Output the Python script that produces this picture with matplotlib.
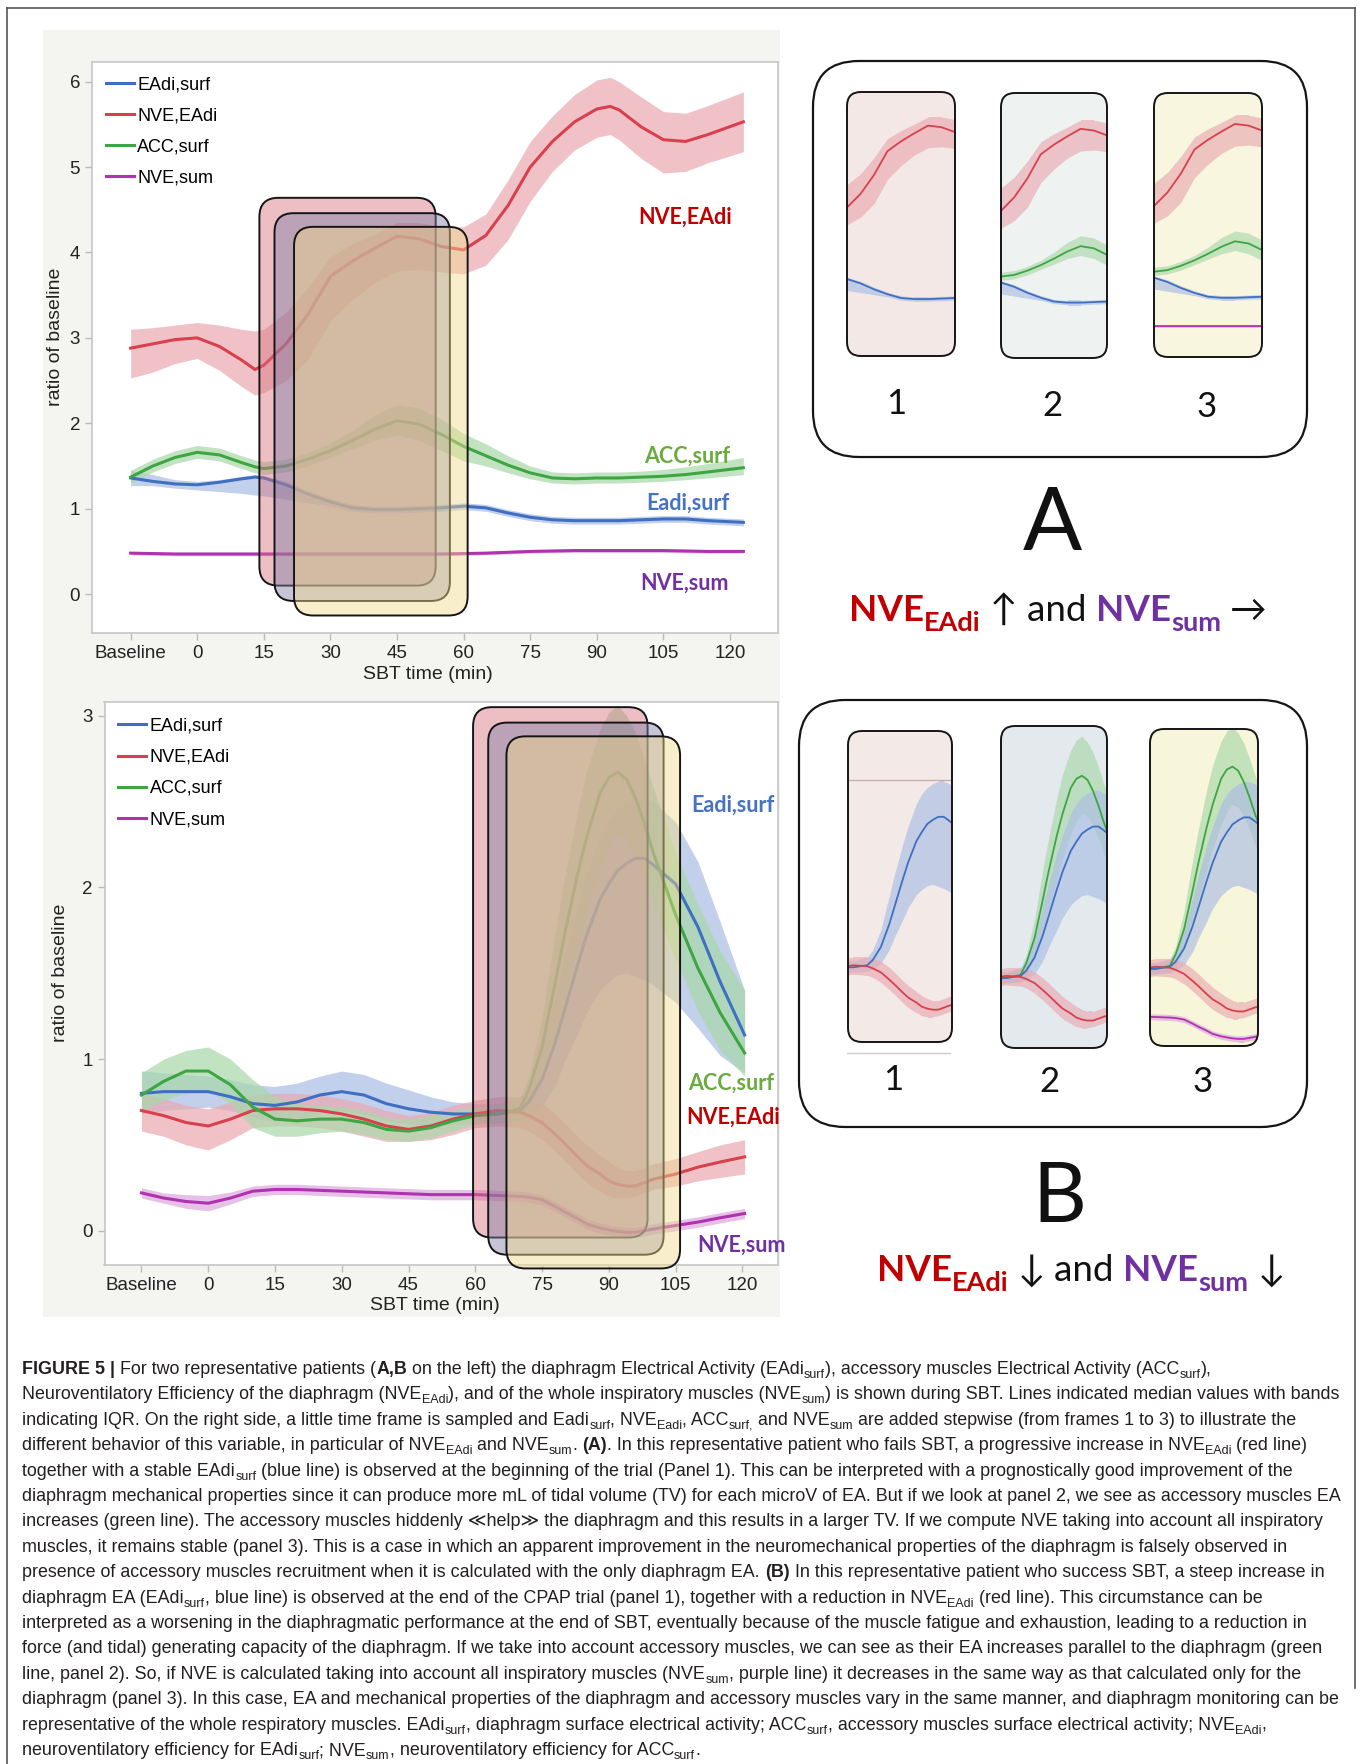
import re
import matplotlib
matplotlib.use("Agg")
import matplotlib.pyplot as plt
from matplotlib.patches import FancyBboxPatch, Rectangle
from matplotlib import font_manager

plt.rcParams["font.family"] = ["Liberation Sans", "DejaVu Sans"]

W, H = 1360, 1764

# ---------------- patient A (top chart) ----------------
tA = [-15, -10, -5, 0, 5, 10, 13, 15, 20, 25, 30, 35, 40, 45, 50, 55, 60, 65, 70, 75,
      80, 85, 90, 93, 95, 100, 105, 110, 115, 123]
a_nve = [2.88, 2.93, 2.98, 3.00, 2.90, 2.74, 2.63, 2.68, 2.93, 3.28, 3.72, 3.90, 4.05, 4.19, 4.16,
         4.07, 4.03, 4.20, 4.55, 5.00, 5.30, 5.53, 5.68, 5.71, 5.67, 5.47, 5.32, 5.30, 5.38, 5.53]
a_nve_lo = [2.53, 2.60, 2.70, 2.76, 2.62, 2.43, 2.33, 2.36, 2.50, 2.75, 3.20, 3.45, 3.65, 3.78, 3.80,
            3.77, 3.75, 3.85, 4.15, 4.60, 4.95, 5.20, 5.35, 5.38, 5.32, 5.10, 4.93, 4.95, 5.05, 5.18]
a_nve_hi = [3.10, 3.12, 3.15, 3.18, 3.15, 3.10, 3.08, 3.10, 3.30, 3.60, 3.95, 4.10, 4.22, 4.35, 4.35,
            4.30, 4.30, 4.45, 4.85, 5.30, 5.60, 5.85, 6.02, 6.05, 6.00, 5.82, 5.65, 5.63, 5.72, 5.88]
a_acc = [1.37, 1.50, 1.60, 1.66, 1.63, 1.54, 1.49, 1.47, 1.50, 1.58, 1.68, 1.80, 1.93, 2.03, 1.99,
         1.87, 1.73, 1.62, 1.51, 1.42, 1.36, 1.35, 1.36, 1.36, 1.36, 1.37, 1.38, 1.40, 1.43, 1.48]
a_acc_lo = [1.30, 1.43, 1.53, 1.59, 1.56, 1.47, 1.42, 1.40, 1.43, 1.50, 1.60, 1.70, 1.80, 1.86, 1.80,
            1.68, 1.56, 1.50, 1.42, 1.35, 1.30, 1.29, 1.30, 1.30, 1.30, 1.31, 1.32, 1.34, 1.36, 1.40]
a_acc_hi = [1.45, 1.58, 1.68, 1.74, 1.71, 1.62, 1.57, 1.55, 1.58, 1.66, 1.77, 1.92, 2.10, 2.22, 2.18,
            2.05, 1.88, 1.76, 1.62, 1.50, 1.43, 1.42, 1.43, 1.43, 1.43, 1.44, 1.46, 1.49, 1.53, 1.60]
a_eadi = [1.36, 1.32, 1.29, 1.28, 1.31, 1.35, 1.37, 1.36, 1.28, 1.17, 1.08, 1.01, 0.99, 0.99, 1.00,
          1.01, 1.03, 1.01, 0.95, 0.90, 0.87, 0.86, 0.86, 0.86, 0.86, 0.87, 0.88, 0.88, 0.86, 0.84]
a_eadi_lo = [1.27, 1.27, 1.24, 1.22, 1.20, 1.18, 1.16, 1.15, 1.11, 1.07, 1.03, 0.97, 0.95, 0.95, 0.96,
             0.97, 0.99, 0.97, 0.91, 0.86, 0.83, 0.82, 0.82, 0.82, 0.82, 0.83, 0.84, 0.84, 0.82, 0.80]
a_eadi_hi = [1.45, 1.40, 1.34, 1.32, 1.34, 1.38, 1.40, 1.39, 1.32, 1.21, 1.12, 1.05, 1.03, 1.03, 1.04,
             1.05, 1.07, 1.05, 0.99, 0.94, 0.91, 0.90, 0.90, 0.90, 0.90, 0.91, 0.92, 0.92, 0.90, 0.88]
a_sum = [0.48, 0.475, 0.47, 0.47, 0.47, 0.47, 0.47, 0.47, 0.47, 0.47, 0.47, 0.47, 0.47, 0.47, 0.47,
         0.47, 0.475, 0.48, 0.49, 0.50, 0.505, 0.51, 0.51, 0.51, 0.51, 0.51, 0.51, 0.505, 0.50, 0.50]
a_sum_lo = [0.46, 0.455, 0.45, 0.45, 0.45, 0.45, 0.45, 0.45, 0.45, 0.45, 0.45, 0.45, 0.45, 0.45, 0.45,
            0.45, 0.455, 0.46, 0.47, 0.48, 0.485, 0.49, 0.49, 0.49, 0.49, 0.49, 0.49, 0.485, 0.48, 0.48]
a_sum_hi = [0.50, 0.495, 0.49, 0.49, 0.49, 0.49, 0.49, 0.49, 0.49, 0.49, 0.49, 0.49, 0.49, 0.49, 0.49,
            0.49, 0.495, 0.50, 0.51, 0.52, 0.525, 0.53, 0.53, 0.53, 0.53, 0.53, 0.53, 0.525, 0.52, 0.52]
# highlighted time frames (t0, y0, t1, y1)
a_frames = [(14.0, 0.10, 53.7, 4.64), (17.4, -0.08, 56.9, 4.46), (21.8, -0.25, 60.9, 4.30)]

# ---------------- patient B (bottom chart) ----------------
tB = [-15, -10, -5, 0, 5, 10, 15, 20, 25, 30, 35, 40, 45, 50, 55, 60, 65, 70, 72, 75,
      78, 80, 83, 85, 88, 90, 92, 94, 96, 98, 100, 105, 110, 115, 120.5]
b_acc = [0.79, 0.87, 0.93, 0.93, 0.85, 0.72, 0.65, 0.64, 0.65, 0.65, 0.63, 0.59, 0.58, 0.60, 0.64,
         0.67, 0.68, 0.71, 0.82, 1.07, 1.45, 1.72, 2.08, 2.29, 2.55, 2.64, 2.67, 2.63, 2.52, 2.37,
         2.20, 1.84, 1.53, 1.27, 1.035]
b_acc_lo = [0.70, 0.76, 0.80, 0.82, 0.74, 0.60, 0.55, 0.55, 0.57, 0.58, 0.56, 0.53, 0.52, 0.54, 0.58,
            0.62, 0.63, 0.64, 0.70, 0.88, 1.15, 1.35, 1.65, 1.85, 2.10, 2.22, 2.30, 2.27, 2.18, 2.05,
            1.90, 1.58, 1.28, 1.05, 0.90]
b_acc_hi = [0.92, 1.00, 1.05, 1.07, 1.00, 0.88, 0.78, 0.74, 0.73, 0.72, 0.70, 0.66, 0.65, 0.67, 0.70,
            0.72, 0.73, 0.77, 0.90, 1.25, 1.75, 2.05, 2.45, 2.68, 2.92, 3.02, 3.06, 3.00, 2.90, 2.75,
            2.58, 2.20, 1.90, 1.63, 1.40]
b_eadi = [0.80, 0.81, 0.81, 0.81, 0.78, 0.74, 0.73, 0.75, 0.79, 0.81, 0.79, 0.74, 0.71, 0.69, 0.68,
          0.68, 0.68, 0.70, 0.75, 0.88, 1.10, 1.28, 1.55, 1.72, 1.93, 2.02, 2.10, 2.14, 2.17, 2.17,
          2.13, 2.02, 1.77, 1.45, 1.14]
b_eadi_lo = [0.68, 0.70, 0.71, 0.72, 0.70, 0.66, 0.64, 0.65, 0.68, 0.70, 0.68, 0.64, 0.62, 0.61, 0.62,
             0.62, 0.63, 0.64, 0.66, 0.72, 0.85, 0.98, 1.15, 1.27, 1.40, 1.45, 1.49, 1.50, 1.48, 1.46,
             1.43, 1.33, 1.18, 1.02, 0.92]
b_eadi_hi = [0.93, 0.92, 0.91, 0.90, 0.88, 0.85, 0.84, 0.86, 0.90, 0.93, 0.91, 0.86, 0.82, 0.78, 0.75,
             0.74, 0.74, 0.78, 0.85, 1.05, 1.38, 1.60, 1.90, 2.08, 2.30, 2.40, 2.46, 2.50, 2.52, 2.52,
             2.50, 2.38, 2.15, 1.80, 1.40]
b_nve = [0.70, 0.67, 0.63, 0.61, 0.65, 0.70, 0.71, 0.71, 0.70, 0.68, 0.65, 0.61, 0.59, 0.61, 0.65,
         0.68, 0.70, 0.69, 0.67, 0.63, 0.56, 0.51, 0.43, 0.38, 0.33, 0.29, 0.27, 0.26, 0.26, 0.28,
         0.30, 0.33, 0.37, 0.40, 0.43]
b_nve_lo = [0.58, 0.55, 0.50, 0.47, 0.53, 0.60, 0.61, 0.61, 0.60, 0.58, 0.55, 0.52, 0.52, 0.53, 0.56,
            0.60, 0.61, 0.60, 0.58, 0.53, 0.46, 0.41, 0.33, 0.28, 0.23, 0.20, 0.19, 0.19, 0.20, 0.22,
            0.24, 0.26, 0.29, 0.31, 0.33]
b_nve_hi = [0.80, 0.77, 0.73, 0.71, 0.75, 0.79, 0.80, 0.80, 0.79, 0.77, 0.74, 0.70, 0.67, 0.69, 0.73,
            0.76, 0.78, 0.78, 0.77, 0.74, 0.68, 0.63, 0.55, 0.50, 0.44, 0.40, 0.37, 0.35, 0.35, 0.37,
            0.39, 0.42, 0.46, 0.50, 0.53]
b_sum = [0.22, 0.19, 0.17, 0.16, 0.19, 0.23, 0.24, 0.24, 0.235, 0.23, 0.225, 0.22, 0.215, 0.21, 0.21,
         0.21, 0.205, 0.20, 0.195, 0.18, 0.14, 0.11, 0.07, 0.04, 0.015, 0.005, -0.005, -0.01, -0.01, 0.0,
         0.01, 0.03, 0.05, 0.075, 0.10]
b_sum_lo = [0.19, 0.16, 0.13, 0.115, 0.155, 0.20, 0.21, 0.21, 0.205, 0.20, 0.195, 0.19, 0.185, 0.18,
            0.18, 0.18, 0.175, 0.17, 0.165, 0.15, 0.11, 0.08, 0.04, 0.01, -0.015, -0.025, -0.035,
            -0.04, -0.04, -0.03, -0.02, 0.0, 0.02, 0.045, 0.07]
b_sum_hi = [0.25, 0.22, 0.21, 0.205, 0.225, 0.26, 0.27, 0.27, 0.265, 0.26, 0.255, 0.25, 0.245, 0.24,
            0.24, 0.24, 0.235, 0.23, 0.225, 0.21, 0.17, 0.14, 0.10, 0.07, 0.045, 0.035, 0.025, 0.02,
            0.02, 0.03, 0.04, 0.06, 0.08, 0.105, 0.13]
b_frames = [(59.5, -0.04, 98.7, 3.05), (62.9, -0.14, 102.3, 2.96), (67.0, -0.22, 106.0, 2.88)]

x_ticks = [-15, 0, 15, 30, 45, 60, 75, 90, 105, 120]
x_ticklabels = ["Baseline", "0", "15", "30", "45", "60", "75", "90", "105", "120"]

BLUE, RED, GREEN, PURPLE = "#3f6fc2", "#d8404e", "#3ea543", "#b032b0"
BLUE_B, RED_B, GREEN_B, PURPLE_B = "#a9bde4", "#eaa9b1", "#a9d8a9", "#dca6dc"
RED_T, GREEN_T, BLUE_T, PURPLE_T = "#c00000", "#6aab3e", "#4472c4", "#7030a0"
FRAME_FC = [(0.85, 0.44, 0.49, 0.45), (0.50, 0.50, 0.66, 0.45), (0.95, 0.86, 0.55, 0.45)]
CALI = ["Lato", "DejaVu Sans"]

fig = plt.figure(figsize=(W / 100, H / 100), dpi=100)
bg = fig.add_axes([0, 0, 1, 1], zorder=-1)
bg.set_xlim(0, W)
bg.set_ylim(H, 0)
bg.axis("off")


def rounded(ax, x0, y0, x1, y1, r, sx=1.0, sy=1.0, transform=None, **kw):
    p = FancyBboxPatch((x0, min(y0, y1)), x1 - x0, abs(y1 - y0),
                       boxstyle="round,pad=0,rounding_size=%g" % (r * sx),
                       mutation_aspect=sy / sx,
                       transform=transform if transform is not None else ax.transData, **kw)
    ax.add_patch(p)
    return p


# page frame and grey chart panel
bg.plot([7, 1355], [8, 8], color="#555555", lw=1.2)
bg.plot([7, 7], [8, H], color="#555555", lw=1.2)
bg.plot([1355, 1355], [8, 1688], color="#555555", lw=1.2)
bg.add_patch(Rectangle((43, 30), 737, 1287, fc="#f4f5f0", ec="none"))


def chart(rect, t, series, frames, xlim, ylim, yticks, labels, leg_y, ylab_x):
    x0, y0, x1, y1 = rect
    ax = fig.add_axes([x0 / W, 1 - y1 / H, (x1 - x0) / W, (y1 - y0) / H])
    handles = []
    for med, lo, hi, c, cb, name in series:
        ax.fill_between(t, lo, hi, color=cb, alpha=0.7, lw=0, zorder=1)
        ln, = ax.plot(t, med, color=c, lw=2.2, zorder=2, label=name)
        handles.append(ln)
    ax.set_xlim(xlim)
    ax.set_ylim(ylim)
    sx = (xlim[1] - xlim[0]) / (x1 - x0)
    sy = (ylim[1] - ylim[0]) / (y1 - y0)
    for (f0, g0, f1, g1), fc in zip(frames, FRAME_FC):
        rounded(ax, f0, g0, f1, g1, 19, sx, sy, fc=fc, ec="#151515", lw=1.4,
                zorder=3, clip_on=False)
    for txt, lx, ly, c in labels:
        ax.text(lx, ly, txt, color=c, fontsize=15.5, fontweight="bold", family=CALI,
                ha="center", va="center", zorder=4)
    ax.set_xticks(x_ticks)
    ax.set_xticklabels(x_ticklabels)
    ax.set_yticks(yticks)
    for sp in ax.spines.values():
        sp.set_color("#c6c6c6")
        sp.set_linewidth(1.2)
    ax.tick_params(length=5, width=1, color="#bbbbbb", labelsize=13.5,
                   labelcolor="#222222", pad=3.5)
    ax.set_xlabel("SBT time (min)", fontsize=14, color="#222222")
    ax.xaxis.set_label_coords(0.49, -0.057)
    ax.set_ylabel("ratio of baseline", fontsize=14, color="#222222")
    ax.yaxis.set_label_coords(ylab_x, 0.519)
    ax.legend(handles, [h.get_label() for h in handles], loc="upper left",
              bbox_to_anchor=(0.02, leg_y), frameon=False, fontsize=13,
              handlelength=1.55, handletextpad=0.2, labelspacing=0.78,
              borderaxespad=0, borderpad=0)
    return ax


seriesA = [(a_eadi, a_eadi_lo, a_eadi_hi, BLUE, BLUE_B, "EAdi,surf"),
           (a_nve, a_nve_lo, a_nve_hi, RED, RED_B, "NVE,EAdi"),
           (a_acc, a_acc_lo, a_acc_hi, GREEN, GREEN_B, "ACC,surf"),
           (a_sum, a_sum_lo, a_sum_hi, PURPLE, PURPLE_B, "NVE,sum")]
seriesB = [(b_eadi, b_eadi_lo, b_eadi_hi, BLUE, BLUE_B, "EAdi,surf"),
           (b_nve, b_nve_lo, b_nve_hi, RED, RED_B, "NVE,EAdi"),
           (b_acc, b_acc_lo, b_acc_hi, GREEN, GREEN_B, "ACC,surf"),
           (b_sum, b_sum_lo, b_sum_hi, PURPLE, PURPLE_B, "NVE,sum")]

chart((92, 62, 778, 633), tA, seriesA, a_frames, (-23.7, 130.8), (-0.455, 6.23), range(7),
      [("NVE,EAdi", 109.9, 4.41, RED_T), ("ACC,surf", 110.3, 1.61, GREEN_T),
       ("Eadi,surf", 110.5, 1.07, BLUE_T), ("NVE,sum", 109.7, 0.13, PURPLE_T)],
      0.975, -0.041)
chart((104.5, 702, 778, 1265), tB, seriesB, b_frames, (-23.3, 128.0), (-0.2, 3.08), range(4),
      [("Eadi,surf", 117.8, 2.48, BLUE_T), ("ACC,surf", 117.5, 0.86, GREEN_T),
       ("NVE,EAdi", 118.0, 0.66, RED_T), ("NVE,sum", 119.8, -0.085, PURPLE_T)],
      0.972, -0.052)


# ---------------- zoomed frames on the right ----------------
def mini(rect, t, series, xlim, ylim, fc, hline=None):
    x0, y0, x1, y1 = rect
    ax = fig.add_axes([x0 / W, 1 - y1 / H, (x1 - x0) / W, (y1 - y0) / H])
    ax.set_xlim(xlim)
    ax.set_ylim(ylim)
    ax.axis("off")
    w, h = x1 - x0, y1 - y0
    back = rounded(ax, 0, 0, 1, 1, 14, 1 / w, 1 / h, transform=ax.transAxes,
                   fc=fc, ec="none", zorder=0, clip_on=False)
    if hline is not None:
        ln, = ax.plot([0, 1], [hline, hline], transform=ax.transAxes, color="#c9a9a9", lw=0.9)
        ln.set_clip_path(back)
    for med, lo, hi, c, cb, name in series:
        f = ax.fill_between(t, lo, hi, color=cb, alpha=0.65, lw=0, zorder=1)
        f.set_clip_path(back)
        ln, = ax.plot(t, med, color=c, lw=1.3, zorder=2)
        ln.set_clip_path(back)
    rounded(ax, 0, 0, 1, 1, 14, 1 / w, 1 / h, transform=ax.transAxes,
            fc="none", ec="#151515", lw=1.4, zorder=5, clip_on=False)


eA, nA, cA, sA = seriesA
eB, nB, cB, sB = seriesB
a_rects = [(847, 92, 955, 356), (1001, 93, 1107, 358), (1154, 93, 1262, 357)]
a_ylims = [(-0.06, 4.81), (-0.03, 4.85), (-0.10, 4.76)]
a_fcs = ["#f3e8e6", "#eef2f1", "#f8f6de"]
a_sets = [[nA, eA], [nA, cA, eA], [nA, cA, eA, sA]]
for r, yl, fc, ss in zip(a_rects, a_ylims, a_fcs, a_sets):
    mini(r, tA, ss, (15, 55), yl, fc)

b_rects = [(848, 731, 952, 1042), (1001, 726, 1107, 1048), (1150, 729, 1258, 1046)]
b_ylims = [(-0.06, 3.02), (-0.01, 3.16), (-0.08, 3.04)]
b_fcs = ["#f3eae8", "#e4e9ed", "#f8f6da"]
b_sets = [[eB, nB], [cB, eB, nB], [cB, eB, nB, sB]]
for i, (r, yl, fc, ss) in enumerate(zip(b_rects, b_ylims, b_fcs, b_sets)):
    mini(r, tB, ss, (63, 101), yl, fc, hline=0.842 if i == 0 else None)

rounded(bg, 813, 61, 1307, 457, 46, fc="none", ec="#151515", lw=1.6)
rounded(bg, 799, 700, 1307, 1127, 46, fc="none", ec="#151515", lw=1.6)
bg.plot([847, 950], [1053, 1053], color="#cccccc", lw=1)

for (cx, cy), s in zip([(896, 414), (1052, 416), (1207, 417)], "123"):
    bg.text(cx, cy, s, fontsize=25, family=CALI, ha="center", va="baseline", color="#111111")
for (cx, cy), s in zip([(893, 1090), (1049, 1092), (1203, 1092)], "123"):
    bg.text(cx, cy, s, fontsize=25, family=CALI, ha="center", va="baseline", color="#111111")
bg.text(1052, 550, "A", fontsize=63, family=CALI, ha="center", va="baseline", color="#111111")
bg.text(1059, 1222, "B", fontsize=60, family=CALI, ha="center", va="baseline", color="#111111")

renderer = fig.canvas.get_renderer()


def width(s, kw):
    a = bg.text(0, 0, "|" + s + "|", **kw)
    b = bg.text(0, 0, "||", **kw)
    w = a.get_window_extent(renderer).width - b.get_window_extent(renderer).width
    a.remove()
    b.remove()
    return w


def rich(x, y, parts):
    for s, kw, dy in parts:
        lead = len(s) - len(s.lstrip(" "))
        if lead:
            x += width(" " * lead, kw)
            s = s.lstrip(" ")
        if s:
            bg.text(x, y + dy, s, ha="left", va="baseline", **kw)
            x += width(s, kw)
    return x


def headline(cx, y, arrow1, arrow2):
    big = dict(fontsize=26.5, family=CALI)
    sub = dict(fontsize=19.5, family=CALI, fontweight="bold")
    parts = [("NVE", dict(big, color=RED_T, fontweight="bold"), 0),
             ("EAdi", dict(sub, color=RED_T), 10),
             (" " + arrow1 + " ", dict(big, color="#111111"), 0),
             ("and ", dict(big, color="#111111"), 0),
             ("NVE", dict(big, color=PURPLE_T, fontweight="bold"), 0),
             ("sum", dict(sub, color=PURPLE_T), 10),
             (" " + arrow2, dict(big, color="#111111"), 0)]
    total = sum(width(s, kw) for s, kw, dy in parts)
    rich(cx - total / 2, y, parts)


headline(1058, 621, "\u2191", "\u2192")
headline(1081, 1281, "\u2193", "\u2193")

# ---------------- caption ----------------
cap_lines = [
    "**FIGURE 5 |** For two representative patients (**A,B** on the left) the diaphragm Electrical Activity (EAdi_{surf}), accessory muscles Electrical Activity (ACC_{surf}),",
    "Neuroventilatory Efficiency of the diaphragm (NVE_{EAdi}), and of the whole inspiratory muscles (NVE_{sum}) is shown during SBT. Lines indicated median values with bands",
    "indicating IQR. On the right side, a little time frame is sampled and Eadi_{surf}, NVE_{Eadi}, ACC_{surf,} and NVE_{sum} are added stepwise (from frames 1 to 3) to illustrate the",
    "different behavior of this variable, in particular of NVE_{EAdi} and NVE_{sum}. **(A)**. In this representative patient who fails SBT, a progressive increase in NVE_{EAdi} (red line)",
    "together with a stable EAdi_{surf} (blue line) is observed at the beginning of the trial (Panel 1). This can be interpreted with a prognostically good improvement of the",
    "diaphragm mechanical properties since it can produce more mL of tidal volume (TV) for each microV of EA. But if we look at panel 2, we see as accessory muscles EA",
    "increases (green line). The accessory muscles hiddenly \u226ahelp\u226b the diaphragm and this results in a larger TV. If we compute NVE taking into account all inspiratory",
    "muscles, it remains stable (panel 3). This is a case in which an apparent improvement in the neuromechanical properties of the diaphragm is falsely observed in",
    "presence of accessory muscles recruitment when it is calculated with the only diaphragm EA. **(B)** In this representative patient who success SBT, a steep increase in",
    "diaphragm EA (EAdi_{surf}, blue line) is observed at the end of the CPAP trial (panel 1), together with a reduction in NVE_{EAdi} (red line). This circumstance can be",
    "interpreted as a worsening in the diaphragmatic performance at the end of SBT, eventually because of the muscle fatigue and exhaustion, leading to a reduction in",
    "force (and tidal) generating capacity of the diaphragm. If we take into account accessory muscles, we can see as their EA increases parallel to the diaphragm (green",
    "line, panel 2). So, if NVE is calculated taking into account all inspiratory muscles (NVE_{sum}, purple line) it decreases in the same way as that calculated only for the",
    "diaphragm (panel 3). In this case, EA and mechanical properties of the diaphragm and accessory muscles vary in the same manner, and diaphragm monitoring can be",
    "representative of the whole respiratory muscles. EAdi_{surf}, diaphragm surface electrical activity; ACC_{surf}, accessory muscles surface electrical activity; NVE_{EAdi},",
    "neuroventilatory efficiency for EAdi_{surf}; NVE_{sum}, neuroventilatory efficiency for ACC_{surf}.",
]

installed = {f.name for f in font_manager.fontManager.ttflist}
cap_font = "Liberation Sans Narrow" if "Liberation Sans Narrow" in installed else "Liberation Sans"
CAP_FAM = [cap_font, "DejaVu Sans"]


def cap_parts(line, fs):
    parts = []
    for tok in re.split(r"(\*\*.+?\*\*|_\{.+?\})", line):
        if not tok:
            continue
        if tok.startswith("**"):
            parts.append((tok[2:-2], dict(fontsize=fs, family=CAP_FAM, fontweight="bold",
                                          color="#231f20"), 0))
        elif tok.startswith("_{"):
            parts.append((tok[2:-1], dict(fontsize=fs * 0.7, family=CAP_FAM, color="#231f20"),
                          fs * 100 / 72 * 0.22))
        else:
            parts.append((tok, dict(fontsize=fs, family=CAP_FAM, color="#231f20"), 0))
    return parts


w_ref = sum(width(s, kw) for s, kw, dy in cap_parts(cap_lines[1], 10))
cap_fs = 10 * 1317 / w_ref
for i, line in enumerate(cap_lines):
    rich(22.5, 1374 + i * 25.4, cap_parts(line, cap_fs))

fig.savefig("out.png", dpi=100, facecolor="white")
